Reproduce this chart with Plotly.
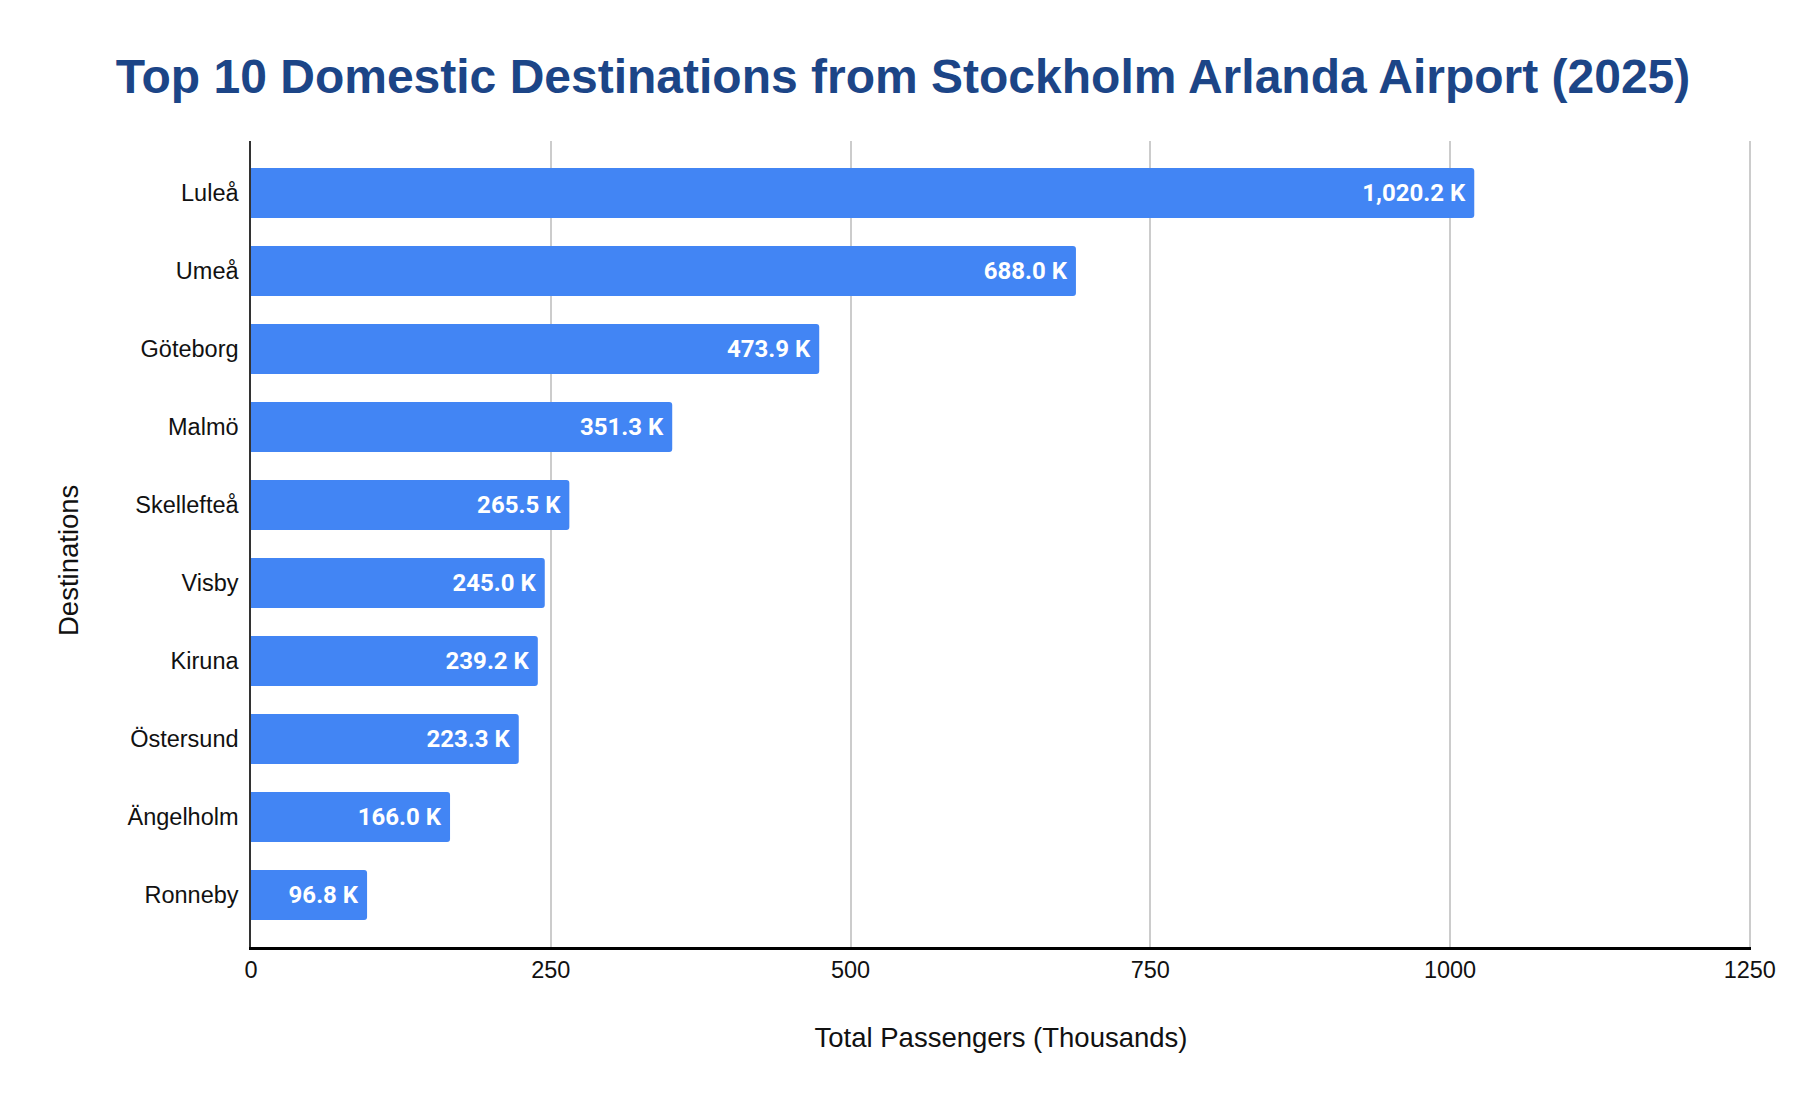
import plotly.graph_objects as go

# data
destinations = ["Luleå", "Umeå", "Göteborg", "Malmö", "Skellefteå",
                "Visby", "Kiruna", "Östersund", "Ängelholm", "Ronneby"]
passengers = [1020.2, 688.0, 473.9, 351.3, 265.5, 245.0, 239.2, 223.3, 166.0, 96.8]
x_ticks = [0, 250, 500, 750, 1000, 1250]

fig = go.Figure()

fig.add_trace(
    go.Bar(
        x=passengers,
        y=destinations,
        orientation='h',
        marker=dict(color='#4285F4', cornerradius=3, line=dict(width=0)),
        width=0.64,
        texttemplate='%{x:,.1f} K\u00a0',
        textposition='inside',
        insidetextanchor='end',
        textangle=0,
        textfont=dict(family='Roboto', size=24, color='white', weight='bold'),
        hoverinfo='skip',
    )
)

# page body adds an 8px offset, so margins are shifted by that
layout = dict(
    width=1806,
    height=1108,
    margin=dict(l=243, r=63, t=133, b=169),
    plot_bgcolor='white',
    paper_bgcolor='white',
    showlegend=False,
    title=dict(
        text='<b>Top 10 Domestic Destinations from Stockholm Arlanda Airport (2025)</b>',
        x=0.4956, xanchor='center',
        y=0.9386, yanchor='middle',
        font=dict(family='Liberation Sans, Arial', size=48, color='#1C4587'),
    ),
    xaxis=dict(
        range=[0, 1251],
        tickvals=x_ticks,
        ticktext=[str(v) for v in x_ticks],
        showgrid=True,
        gridcolor='#CCCCCC',
        gridwidth=1.5,
        zeroline=False,
        showline=True,
        linecolor='black',
        linewidth=2.5,
        ticks='',
        tickfont=dict(family='Liberation Sans, Arial', size=23.5, color='#111111'),
        title=dict(
            text='Total Passengers (Thousands)',
            font=dict(family='Liberation Sans, Arial', size=27.5, color='#111111'),
            standoff=46,
        ),
    ),
    yaxis=dict(
        range=[9.667, -0.667],
        showgrid=False,
        zeroline=False,
        showline=True,
        linecolor='#333333',
        linewidth=1.5,
        ticks='',
        ticklabelstandoff=6,
        tickfont=dict(family='Liberation Sans, Arial', size=23.5, color='#111111'),
    ),
)

annotations = [
    dict(
        text='Destinations',
        xref='paper', yref='paper',
        x=(68 - 251) / 1500, y=1 - (561 - 141) / 806,
        xanchor='center', yanchor='middle',
        textangle=-90,
        showarrow=False,
        font=dict(family='Liberation Sans, Arial', size=27.5, color='#111111'),
    )
]

fig.update_layout(layout, annotations=annotations)
fig.write_html("out.html")
